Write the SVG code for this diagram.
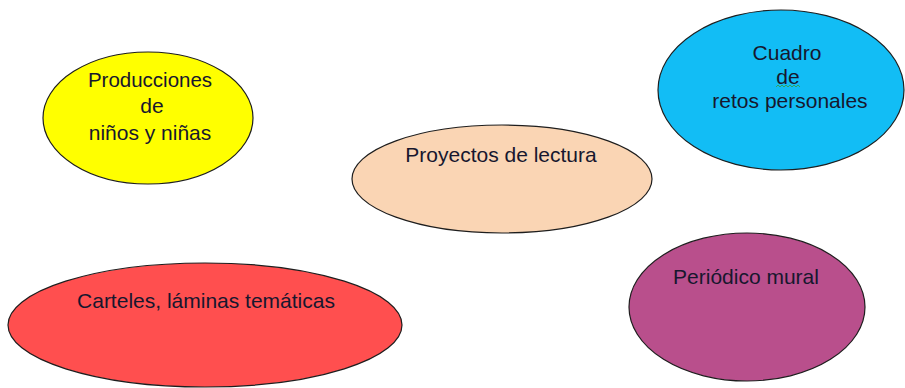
<svg xmlns="http://www.w3.org/2000/svg" width="905" height="388" viewBox="0 0 905 388">
<style>
.n ellipse{stroke:#1e1e1e;stroke-width:1.2}
text{font-family:"Liberation Sans",Arial,sans-serif;font-size:21px;fill:#17172e;text-anchor:middle}
</style>
<rect width="905" height="388" fill="#ffffff"/>
<g id="connectors"></g>
<g id="producciones" class="n">
<ellipse cx="148" cy="118" rx="105" ry="66" fill="#ffff00"/>
<text x="150" y="87" style="font-size:20.5px">Producciones</text>
<text x="152" y="113">de</text>
<text x="150" y="140">niños y niñas</text>
</g>
<g id="cuadro" class="n">
<ellipse cx="781" cy="90" rx="123" ry="80" fill="#12bdf5"/>
<text x="787" y="60">Cuadro</text>
<text x="788" y="84">de</text>
<path d="M776,87 l2,-2 l2,2 l2,-2 l2,2 l2,-2 l2,2 l2,-2 l2,2 l2,-2 l2,2 l2,-2 l2,2" fill="none" stroke="#3a9a3a" stroke-width="0.8"/>
<text x="790" y="108">retos personales</text>
</g>
<g id="proyectos" class="n">
<ellipse cx="502" cy="179" rx="150" ry="54" fill="#fad5b4"/>
<text x="501" y="162">Proyectos de lectura</text>
</g>
<g id="carteles" class="n">
<ellipse cx="205" cy="325" rx="197" ry="62" fill="#ff4f4f"/>
<text x="206" y="308">Carteles, láminas temáticas</text>
</g>
<g id="periodico" class="n">
<ellipse cx="747" cy="307" rx="118" ry="74" fill="#b94f8c"/>
<text x="746" y="284">Periódico mural</text>
</g>
</svg>
